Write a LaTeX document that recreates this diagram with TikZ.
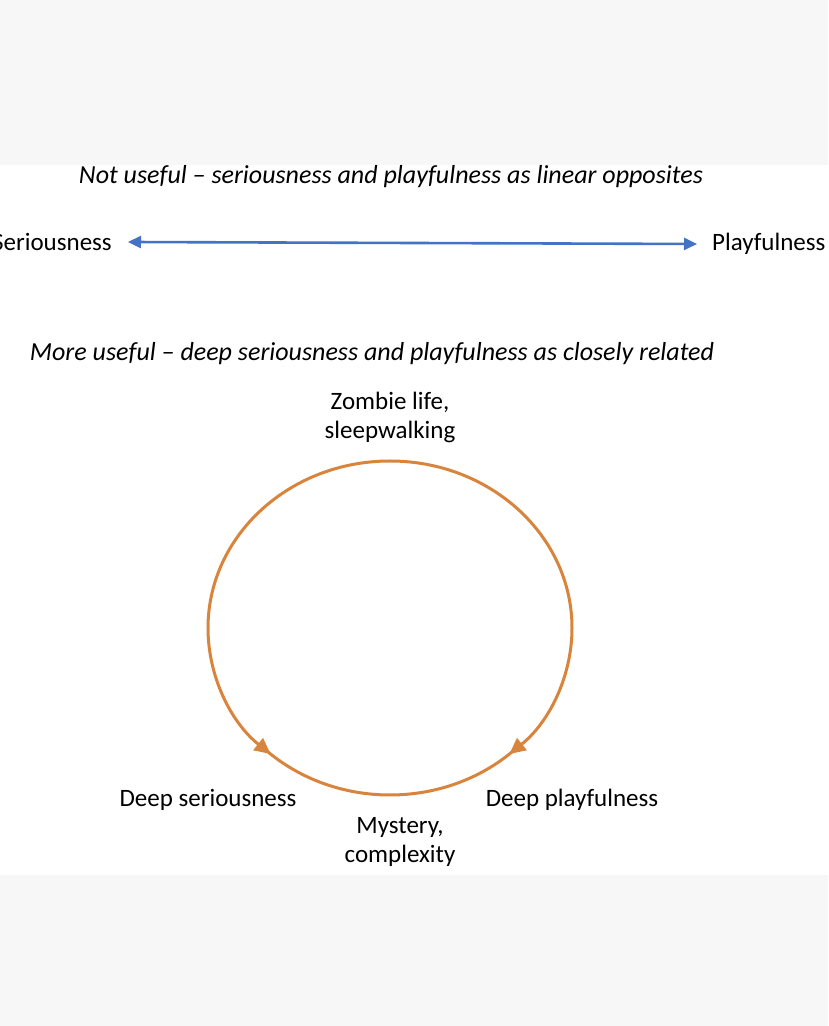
\documentclass[tikz,border=0pt]{standalone}
\usepackage{fontspec}
\setmainfont{Carlito}
\usetikzlibrary{arrows.meta,calc}
\definecolor{bg}{HTML}{F7F7F7}
\definecolor{blu}{HTML}{4472C4}
\definecolor{org}{HTML}{D9843C}
\begin{document}
\begin{tikzpicture}[x=1pt,y=1pt,
  lbl/.style={font=\fontsize{25}{29}\selectfont,align=center,inner sep=0},
  ttl/.style={font=\fontsize{26}{30}\selectfont\itshape,inner sep=0},
  circ/.style={org,line width=3pt},
  tip/.style={-{Triangle[length=16pt,width=15pt]}}]
\useasboundingbox (0,0) rectangle (828,1026);
\clip (0,0) rectangle (828,1026);
\fill[white] (0,0) rectangle (828,1026);
\fill[bg] (0,1026) rectangle (828,861);
\fill[bg] (0,0) rectangle (828,151);
\node[ttl] (t1) at (391,849) {Not useful – seriousness and playfulness as linear opposites};
\node[lbl,anchor=east] (ser) at (112,784) {Seriousness};
\node[lbl,anchor=west] (pla) at (712,782) {Playfulness};
\draw[blu,line width=2.6pt,{Triangle[length=13pt,width=12pt]}-{Triangle[length=13pt,width=12pt]}] ($(ser.east)+(16,0)$) coordinate (a1) -- ($(pla.west)+(-15,0)$) coordinate (a2);
\node[ttl] (t2) at (372,672) {More useful – deep seriousness and playfulness as closely related};
\node[lbl] (zom) at (390,609) {Zombie life,\\sleepwalking};
\node[lbl] (ds) at (208,226) {Deep seriousness};
\node[lbl] (dp) at (572,226) {Deep playfulness};
\node[lbl] (mys) at (400,184) {Mystery,\\complexity};
\coordinate (c) at (390,398);
\draw[circ,tip] ($(c)+(90:182 and 167)$) arc[start angle=90,end angle=229,x radius=182,y radius=167];
\draw[circ,tip] ($(c)+(90:182 and 167)$) arc[start angle=90,end angle=-49,x radius=182,y radius=167];
\draw[circ] ($(c)+(225:182 and 167)$) arc[start angle=225,end angle=315,x radius=182,y radius=167];
\end{tikzpicture}
\end{document}
